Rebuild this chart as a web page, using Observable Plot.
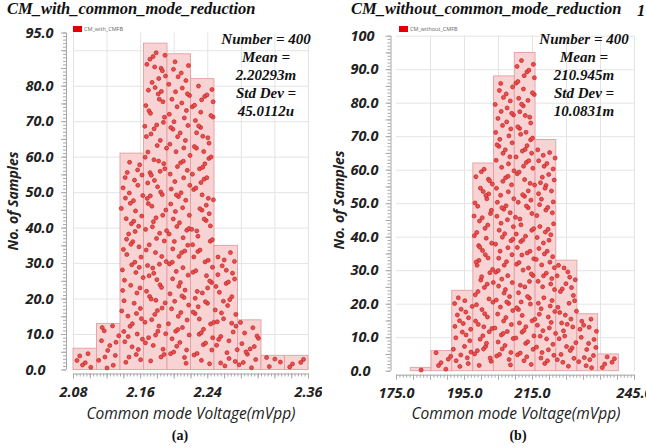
<!DOCTYPE html>
<html>
<head>
<meta charset="utf-8">
<script src="https://cdn.jsdelivr.net/npm/d3@7"></script>
<script src="https://cdn.jsdelivr.net/npm/@observablehq/plot@0.6"></script>
<style>
  html, body { margin: 0; padding: 0; background: #fff; }
  #wrap { position: relative; width: 646px; height: 448px; overflow: hidden; background: #fff; }
  .panel { position: absolute; top: 0; height: 448px; overflow: hidden; }
  .abs { position: absolute; white-space: nowrap; line-height: 1; }
  .title { font-family: "Liberation Serif", "Times New Roman", serif; font-weight: bold; font-style: italic; font-size: 16.5px; color: #111; }
  .stats { font-family: "Liberation Serif", "Times New Roman", serif; font-weight: bold; font-style: italic; font-size: 15px; color: #111; text-align: center; line-height: 17.9px; transform: translateX(-50%); }
  .xtitle { font-family: "Open Sans", sans-serif; font-style: italic; font-size: 15.5px; color: #222; transform: translate(-50%, -50%); }
  .ytitle { font-family: "Open Sans", sans-serif; font-style: italic; font-weight: bold; font-size: 14px; color: #222; transform: translate(-50%, -50%) rotate(-90deg); }
  .cap { font-family: "Liberation Serif", "Times New Roman", serif; font-weight: bold; font-size: 14px; color: #111; transform: translate(-50%, -50%); }
  .legsq { position: absolute; width: 9px; height: 6px; background: #e00000; }
  .legtx { font-family: "Open Sans", sans-serif; font-size: 5.5px; color: #666; }
</style>
</head>
<body>
<div id="wrap">
  <div class="panel" id="pa" style="left:0;width:322px"></div>
  <div class="panel" id="pb" style="left:322px;width:324px"></div>

  <div class="abs title" style="left:7px;top:1px">CM_with_common_mode_reduction</div>
  <div class="abs title" style="left:351px;top:1px">CM_without_common_mode_reduction</div>
  <div class="abs title" style="left:637px;top:3px">1</div>

  <div class="legsq" style="left:73px;top:26px"></div>
  <div class="abs legtx" style="left:84px;top:27px">CM_with_CMFB</div>
  <div class="legsq" style="left:399px;top:26px"></div>
  <div class="abs legtx" style="left:410px;top:27px">CM_without_CMFB</div>

  <div class="abs stats" id="statsA" style="left:266px;top:31px"></div>
  <div class="abs stats" id="statsB" style="left:584px;top:31px"></div>

  <div class="abs xtitle" style="left:191px;top:414px">Common mode Voltage(mVpp)</div>
  <div class="abs xtitle" style="left:516px;top:414px">Common mode Voltage(mVpp)</div>
  <div class="abs ytitle" style="left:13px;top:201px">No. of Samples</div>
  <div class="abs ytitle" style="left:339px;top:200px">No. of Samples</div>
  <div class="abs cap" style="left:180px;top:436px">(a)</div>
  <div class="abs cap" style="left:518px;top:436px">(b)</div>
</div>
<script>
// ---- Data ----
// Panel (a): CM_with_common_mode_reduction
const aBinEdges = [2.08, 2.108, 2.136, 2.164, 2.192, 2.22, 2.248, 2.276, 2.304, 2.332, 2.36];
const aCounts   = [6, 13, 61, 92, 89, 82, 35, 14, 4, 4];
const aXTicks   = [2.08, 2.16, 2.24, 2.36];
const aXLabels  = ["2.08", "2.16", "2.24", "2.36"];
const aYTicks   = [0, 10, 20, 30, 40, 50, 60, 70, 80, 95];
const aYLabels  = ["0.0", "10.0", "20.0", "30.0", "40.0", "50.0", "60.0", "70.0", "80.0", "95.0"];
const aStats    = ["Number = 400", "Mean =", "2.20293m", "Std Dev =", "45.0112u"];

// Panel (b): CM_without_common_mode_reduction
const bBinEdges = [179.2, 185.3, 191.4, 197.6, 203.7, 209.8, 215.9, 222.0, 228.2, 234.3, 240.4];
const bCounts   = [1, 6, 24, 62, 88, 95, 69, 33, 17, 5];
const bXTicks   = [175, 195, 215, 245];
const bXLabels  = ["175.0", "195.0", "215.0", "245.0"];
const bYTicks   = [0, 10, 20, 30, 40, 50, 60, 70, 80, 90, 100];
const bYLabels  = ["0.0", "10.0", "20.0", "30.0", "40.0", "50.0", "60.0", "70.0", "80.0", "90.0", "100"];
const bStats    = ["Number = 400", "Mean =", "210.945m", "Std Dev =", "10.0831m"];

document.getElementById("statsA").innerHTML = aStats.join("<br>");
document.getElementById("statsB").innerHTML = bStats.join("<br>");

// Low-discrepancy layout that spreads each bin's samples inside its bar
function halton(i, b) { let f = 1, r = 0; while (i > 0) { f /= b; r += f * (i % b); i = Math.floor(i / b); } return r; }

function makePanel(o) {
  const bins = o.counts.map((c, k) => ({x1: o.edges[k], x2: o.edges[k + 1], y: c}));
  const dots = [];
  bins.forEach((b, k) => {
    for (let i = 0; i < b.y; i++) {
      const j = i + 1 + k * 41;
      dots.push({x: b.x1 + (0.03 + 0.94 * halton(j, 2)) * (b.x2 - b.x1), y: (0.02 + 0.96 * halton(j, 3)) * b.y});
    }
  });
  const [x0, x1] = o.xDomain, [y0, y1] = o.yDomain;
  const axisColor = "#a8a8a8";
  return Plot.plot({
    width: o.width, height: 448,
    marginLeft: o.ml, marginRight: o.mr, marginTop: o.mt, marginBottom: o.mb,
    x: {domain: o.xDomain, label: null},
    y: {domain: o.yDomain, label: null},
    style: {fontFamily: "'Open Sans', sans-serif", fontSize: "14.5px", fontWeight: "bold", fontStyle: "italic", color: "#222", background: "white", overflow: "visible"},
    marks: [
      Plot.gridX(o.gridX, {stroke: "#e4e4e4", strokeOpacity: 1}),
      Plot.gridY(o.gridY, {stroke: "#e4e4e4", strokeOpacity: 1}),
      Plot.rectY(bins, {x1: "x1", x2: "x2", y: "y", fill: "#f8d3d4", stroke: "#e59ea2", strokeWidth: 0.9}),
      Plot.dot(dots, {x: "x", y: "y", r: 2, fill: "#e85050", stroke: "#c32121", strokeWidth: 0.7}),
      // y ruler
      Plot.ruleX([x0], {dx: -o.gap, stroke: axisColor}),
      Plot.axisY(d3.range(y0, y1 + 1e-9, 1), {tickSize: 3, text: null, label: null, dx: -o.gap, stroke: axisColor}),
      Plot.axisY(d3.range(y0, y1 + 1e-9, 5), {tickSize: 5, text: null, label: null, dx: -o.gap, stroke: axisColor}),
      Plot.axisY(o.yTicks, {tickSize: 0, tickPadding: 0, label: null, textAnchor: "start", dx: o.ylabDx, tickFormat: d => o.yLabels[o.yTicks.indexOf(d)]}),
      // x ruler
      Plot.ruleY([y0], {dy: 4, stroke: axisColor}),
      Plot.axisX(o.xMinor, {tickSize: 3, text: null, label: null, dy: 4, stroke: axisColor}),
      Plot.axisX(o.xMajor, {tickSize: 5, text: null, label: null, dy: 4, stroke: axisColor}),
      Plot.axisX(o.xTicks, {tickSize: 0, tickPadding: 0, label: null, dy: 17, tickFormat: d => o.xLabels[o.xTicks.indexOf(d)]})
    ]
  });
}

const r4 = v => Math.round(v * 10000) / 10000;
document.getElementById("pa").appendChild(makePanel({
  edges: aBinEdges, counts: aCounts, xDomain: [2.08, 2.36], yDomain: [0, 95],
  xTicks: aXTicks, xLabels: aXLabels, yTicks: aYTicks, yLabels: aYLabels,
  width: 322, ml: 73, mr: 14, mt: 32.5, mb: 78.5, gap: 7, ylabDx: -48,
  gridX: d3.range(0, 8).map(i => r4(2.08 + 0.04 * i)), gridY: d3.range(10, 91, 10),
  xMinor: d3.range(0, 71).map(i => r4(2.08 + 0.004 * i)), xMajor: d3.range(0, 15).map(i => r4(2.08 + 0.02 * i))
}));
document.getElementById("pb").appendChild(makePanel({
  edges: bBinEdges, counts: bCounts, xDomain: [175, 245], yDomain: [0, 100],
  xTicks: bXTicks, xLabels: bXLabels, yTicks: bYTicks, yLabels: bYLabels,
  width: 324, ml: 74, mr: 12, mt: 35.7, mb: 77.3, gap: 5.5, ylabDx: -46,
  gridX: d3.range(185, 246, 10), gridY: d3.range(10, 101, 10),
  xMinor: d3.range(175, 245.1, 1), xMajor: d3.range(175, 245.1, 5)
}));
</script>
</body>
</html>
